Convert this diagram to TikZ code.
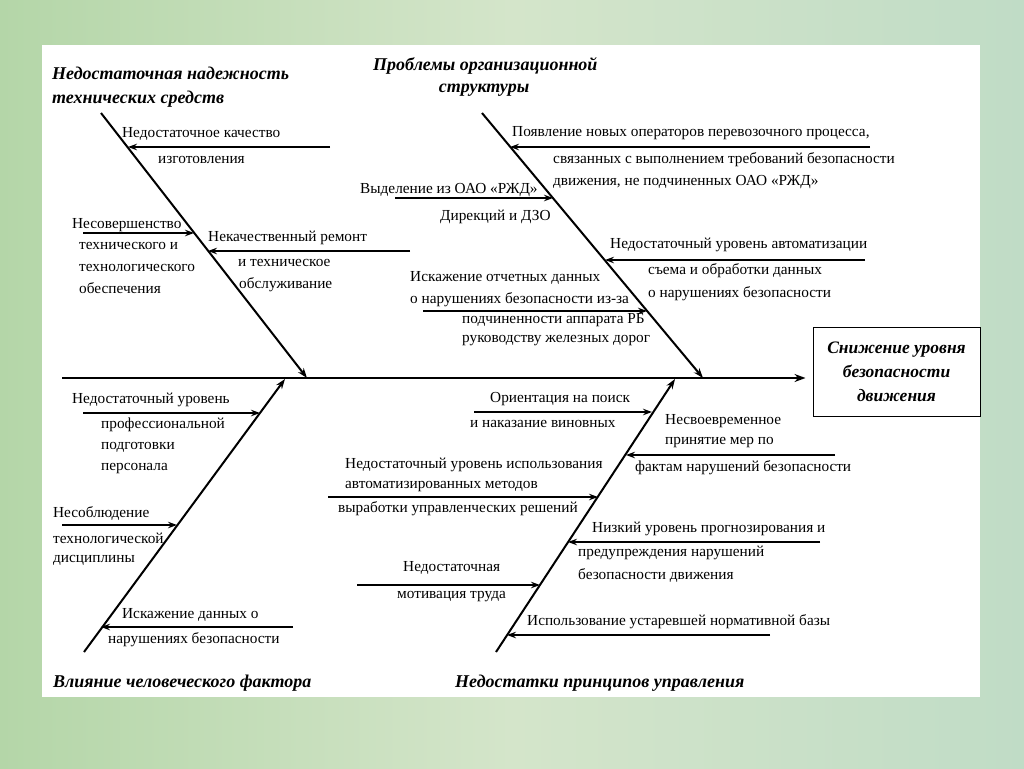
\documentclass[tikz,border=0pt]{standalone}
\usepackage{fontspec}
\setmainfont{Liberation Serif}
\usetikzlibrary{arrows.meta,calc}
\definecolor{bgA}{RGB}{180,214,168}
\definecolor{bgB}{RGB}{212,229,202}
\definecolor{bgC}{RGB}{192,220,198}
\tikzset{
  lbl/.style={anchor=west, inner sep=0pt, font=\fontsize{15.3}{17}\selectfont},
  ttl/.style={anchor=west, inner sep=0pt, font=\fontsize{18}{20}\selectfont\bfseries\itshape},
  ttlc/.style={inner sep=0pt, font=\fontsize{18}{20}\selectfont\bfseries\itshape},
  bone/.style={line width=2pt, -{Stealth[length=10pt,width=7pt]}},
  twig/.style={line width=1.2pt, -{Stealth[length=9pt,width=6.5pt]}},
  spine/.style={line width=2.6pt, -{Stealth[length=11pt,width=8pt]}, shorten >=7pt},
  effect/.style={draw, line width=1pt, minimum width=167pt, minimum height=89pt, inner sep=0pt,
    align=center, font=\fontsize{17.5}{24}\selectfont\bfseries\itshape},
}
\begin{document}
\begin{tikzpicture}[x=1pt,y=-1pt]
\useasboundingbox (0,0) rectangle (1024,768);
\shade[left color=bgA, right color=bgC, middle color=bgB] (0,0) rectangle (1024,768);
\fill[white] (42,45) rectangle (980,697);

% bone coordinates
\coordinate (ula) at (101,113); \coordinate (ulb) at (307,378);
\coordinate (ura) at (482,113); \coordinate (urb) at (703,378);
\coordinate (lla) at (84,652);  \coordinate (llb) at (285,379);
\coordinate (lra) at (496,652); \coordinate (lrb) at (675,379);
\coordinate (sp0) at (62,378);

\node[effect] (eff) at (896.5,371.5) {Снижение уровня\\безопасности\\движения};

\draw[spine] (sp0) -- (sp0 -| eff.west);
\draw[bone] (ula) -- (ulb);
\draw[bone] (ura) -- (urb);
\draw[bone] (lla) -- (llb);
\draw[bone] (lra) -- (lrb);

% titles
\node[ttl] (t1a) at (52,73) {Недостаточная надежность};
\node[ttl] (t1b) at (52,99) {технических средств};
\node[ttl] (t2a) at (373,66) {Проблемы организационной};
\node[ttlc] (t2b) at (484,90) {структуры};
\node[ttl] (t3) at (53,683) {Влияние человеческого фактора};
\node[ttl] (t4) at (455,683) {Недостатки принципов управления};

% upper left
\coordinate (s1) at (330,147); \coordinate (e1) at (128,147);
\draw[twig] (s1) -- (e1);
\node[lbl] (a1) at (122,134) {Недостаточное качество};
\node[lbl] (a2) at (158,160) {изготовления};
\coordinate (s2) at (83,233); \coordinate (e2) at (194,233);
\draw[twig] (s2) -- (e2);
\node[lbl] (b1) at (72,225) {Несовершенство};
\node[lbl] (b2) at (79,246) {технического и};
\node[lbl] (b3) at (79,268) {технологического};
\node[lbl] (b4) at (79,288) {обеспечения};
\coordinate (s3) at (410,251); \coordinate (e3) at (208,251);
\draw[twig] (s3) -- (e3);
\node[lbl] (c1) at (208,238) {Некачественный ремонт};
\node[lbl] (c2) at (238,263) {и техническое};
\node[lbl] (c3) at (239,285) {обслуживание};

% upper right
\coordinate (s4) at (870,147); \coordinate (e4) at (510,147);
\draw[twig] (s4) -- (e4);
\node[lbl] (d1) at (512,133) {Появление новых операторов перевозочного процесса,};
\node[lbl] (d2) at (553,160) {связанных с выполнением требований безопасности};
\node[lbl] (d3) at (553,182) {движения, не подчиненных ОАО «РЖД»};
\coordinate (s5) at (395,198); \coordinate (e5) at (553,198);
\draw[twig] (s5) -- (e5);
\node[lbl] (f1) at (360,190) {Выделение из ОАО «РЖД»};
\node[lbl] (f2) at (440,217) {Дирекций и ДЗО};
\coordinate (s6) at (865,260); \coordinate (e6) at (605,260);
\draw[twig] (s6) -- (e6);
\node[lbl] (g1) at (610,245) {Недостаточный уровень автоматизации};
\node[lbl] (g2) at (648,271) {съема и обработки данных};
\node[lbl] (g3) at (648,294) {о нарушениях безопасности};
\coordinate (s7) at (423,311); \coordinate (e7) at (647,311);
\draw[twig] (s7) -- (e7);
\node[lbl] (h1) at (410,278) {Искажение отчетных данных};
\node[lbl] (h2) at (410,300) {о нарушениях безопасности из-за};
\node[lbl] (h3) at (462,320) {подчиненности аппарата РБ};
\node[lbl] (h4) at (462,341) {руководству железных дорог};

% lower left
\coordinate (s8) at (83,413); \coordinate (e8) at (260,413);
\draw[twig] (s8) -- (e8);
\node[lbl] (i1) at (72,400) {Недостаточный уровень};
\node[lbl] (i2) at (101,425) {профессиональной};
\node[lbl] (i3) at (101,447) {подготовки};
\node[lbl] (i4) at (101,469) {персонала};
\coordinate (s9) at (62,525); \coordinate (e9) at (177,525);
\draw[twig] (s9) -- (e9);
\node[lbl] (j1) at (53,513) {Несоблюдение};
\node[lbl] (j2) at (53,538) {технологической};
\node[lbl] (j3) at (53,560) {дисциплины};
\coordinate (s10) at (293,627); \coordinate (e10) at (101,627);
\draw[twig] (s10) -- (e10);
\node[lbl] (k1) at (122,615) {Искажение данных о};
\node[lbl] (k2) at (108,640) {нарушениях безопасности};

% lower right
\coordinate (s11) at (474,412); \coordinate (e11) at (652,412);
\draw[twig] (s11) -- (e11);
\node[lbl] (m1) at (490,399) {Ориентация на поиск};
\node[lbl] (m2) at (470,424) {и наказание виновных};
\coordinate (s12) at (835,455); \coordinate (e12) at (626,455);
\draw[twig] (s12) -- (e12);
\node[lbl] (n1) at (665,421) {Несвоевременное};
\node[lbl] (n2) at (665,443) {принятие мер по};
\node[lbl] (n3) at (635,468) {фактам нарушений безопасности};
\coordinate (s13) at (328,497); \coordinate (e13) at (598,497);
\draw[twig] (s13) -- (e13);
\node[lbl] (o1) at (345,465) {Недостаточный уровень использования};
\node[lbl] (o2) at (345,487) {автоматизированных методов};
\node[lbl] (o3) at (338,509) {выработки управленческих решений};
\coordinate (s14) at (820,542); \coordinate (e14) at (568,542);
\draw[twig] (s14) -- (e14);
\node[lbl] (p1) at (592,529) {Низкий уровень прогнозирования и};
\node[lbl] (p2) at (578,553) {предупреждения нарушений};
\node[lbl] (p3) at (578,575) {безопасности движения};
\coordinate (s15) at (357,585); \coordinate (e15) at (540,585);
\draw[twig] (s15) -- (e15);
\node[lbl] (q1) at (403,568) {Недостаточная};
\node[lbl] (q2) at (397,597) {мотивация труда};
\coordinate (s16) at (770,635); \coordinate (e16) at (507,635);
\draw[twig] (s16) -- (e16);
\node[lbl] (r1) at (527,622) {Использование устаревшей нормативной базы};
\end{tikzpicture}
\end{document}
